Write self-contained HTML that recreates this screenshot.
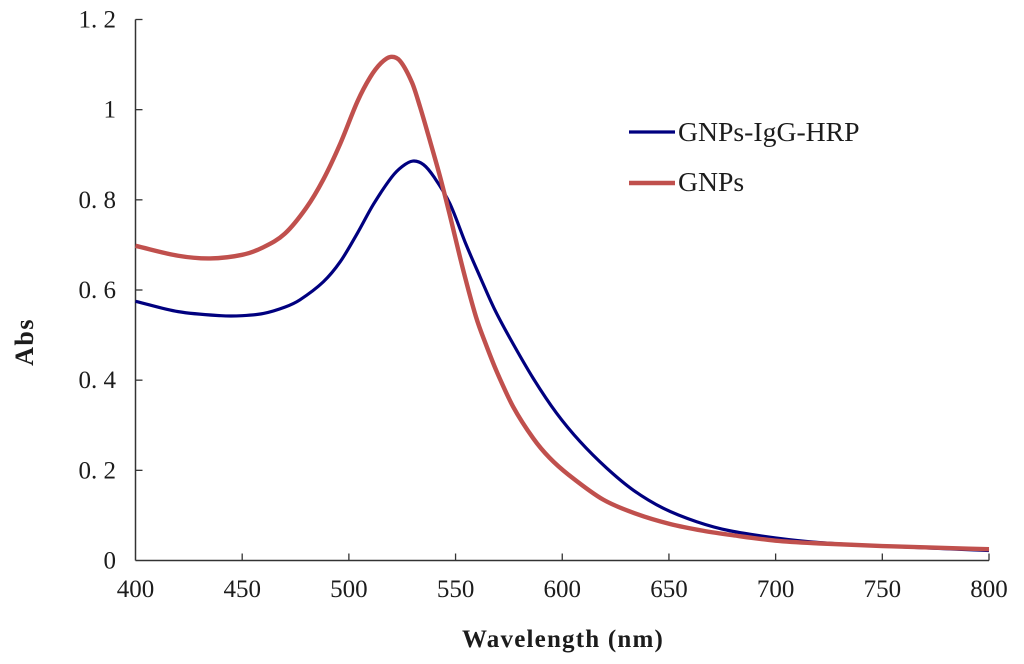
<!DOCTYPE html>
<html>
<head>
<meta charset="utf-8">
<title>Abs vs Wavelength</title>
<style>
html,body{margin:0;padding:0;background:#fff;width:1024px;height:664px;overflow:hidden}
svg{display:block;filter:blur(0.35px)}
text{font-family:"Liberation Serif",serif;fill:#1c1c1c}
.tick{font-size:25px}
.xtitle{font-size:25px;font-weight:bold;letter-spacing:1.2px}
.ytitle{font-size:26px;font-weight:bold;letter-spacing:1.5px}
.leg{font-size:27.7px}
</style>
</head>
<body>
<svg id="chart" width="1024" height="664" viewBox="0 0 1024 664" xmlns="http://www.w3.org/2000/svg"></svg>
<script>
const xTickValues = [400,450,500,550,600,650,700,750,800];
const yTickValues = [0,0.2,0.4,0.6,0.8,1,1.2];
const yTickLabels = ["0","0. 2","0. 4","0. 6","0. 8","1","1. 2"];
const blueNm  = [400,420,440,450,460,470,477,488,496,504,511.5,520,525,530,535,540,547.3,555,561.4,568,575.5,586.4,597.3,608.3,620.8,633.3,647.3,663,678.5,700,720,750,800];
const blueAbs = [0.575,0.552,0.543,0.543,0.548,0.562,0.578,0.618,0.663,0.726,0.79,0.85,0.874,0.886,0.878,0.85,0.792,0.70,0.63,0.56,0.493,0.404,0.327,0.264,0.205,0.156,0.116,0.086,0.066,0.05,0.04,0.032,0.022];
const redNm   = [400,420,435,450,460,470,480,488,496,504,510,515,519.5,524,529.6,533.3,537.2,542.7,547,553.6,559.6,564,569.3,577,586.4,594,603,619.2,635,650.5,666,680,700,720,750,800];
const redAbs  = [0.698,0.676,0.670,0.678,0.695,0.725,0.782,0.845,0.925,1.018,1.072,1.103,1.117,1.108,1.06,1.007,0.944,0.852,0.772,0.644,0.54,0.482,0.419,0.341,0.271,0.228,0.19,0.135,0.103,0.081,0.066,0.056,0.044,0.038,0.032,0.025];
const seriesNames = ["GNPs-IgG-HRP","GNPs"];

const NS = "http://www.w3.org/2000/svg";
const svg = document.getElementById("chart");
const X0 = 135.5, X1 = 989, Y0 = 560.5, Y1 = 19.5;
function xScale(v){ return X0 + (v - 400) / 400 * (X1 - X0); }
function yScale(v){ return Y0 - v / 1.2 * (Y0 - Y1); }
function mk(tag, attrs, parent){
  const e = document.createElementNS(NS, tag);
  for (const k in attrs) e.setAttribute(k, attrs[k]);
  (parent || svg).appendChild(e);
  return e;
}
function curve(xs, ys){
  const p = xs.map((x,i)=>[xScale(x), yScale(ys[i])]);
  let d = "M" + p[0][0].toFixed(2) + " " + p[0][1].toFixed(2);
  for (let i = 0; i < p.length - 1; i++){
    const a = p[Math.max(i-1,0)], b = p[i], c = p[i+1], e = p[Math.min(i+2,p.length-1)];
    const h = c[0] - b[0];
    const m1 = (c[1]-a[1])/((c[0]-a[0])||1), m2 = (e[1]-b[1])/((e[0]-b[0])||1);
    d += "C" + (b[0]+h/3).toFixed(2) + " " + (b[1]+m1*h/3).toFixed(2) + " " +
         (c[0]-h/3).toFixed(2) + " " + (c[1]-m2*h/3).toFixed(2) + " " +
         c[0].toFixed(2) + " " + c[1].toFixed(2);
  }
  return d;
}

const axisColor = "#333";
const yAxis = mk("line",{x1:X0,y1:Y1,x2:X0,y2:Y0,stroke:axisColor,"stroke-width":1.5});


const xAxis = mk("line",{x1:X0,y1:Y0,x2:X1,y2:Y0,stroke:axisColor,"stroke-width":1.5});



xTickValues.forEach(function(v){
  if (v !== 400) {
    const t = mk("line",{x1:xScale(v),y1:Y0,x2:xScale(v),y2:Y0-7,stroke:axisColor,"stroke-width":1.3});
    
    
  }
  const l = mk("text",{x:xScale(v),y:597,"text-anchor":"middle","class":"tick"});
  
  
  l.textContent = String(v);
});
yTickValues.forEach(function(v,i){
  if (v !== 0) {
    const t = mk("line",{x1:X0,y1:yScale(v),x2:X0+7,y2:yScale(v),stroke:axisColor,"stroke-width":1.3});
    
    
  }
  const l = mk("text",{x:116,y:yScale(v)+8,"text-anchor":"end","class":"tick"});
  
  
  l.style.whiteSpace = 'pre';
  l.textContent = yTickLabels[i];
});

const blue = mk("path",{d:curve(blueNm,blueAbs),fill:"none",stroke:"#00007f","stroke-width":3.2,"stroke-linejoin":"round"});


const red = mk("path",{d:curve(redNm,redAbs),fill:"none",stroke:"#c0504d","stroke-width":4.4,"stroke-linejoin":"round"});



const lb = mk("line",{x1:629,y1:132,x2:675,y2:132,stroke:"#00007f","stroke-width":3.2});


const lbt = mk("text",{x:678,y:141,"class":"leg"});


lbt.textContent = seriesNames[0];
const lr = mk("line",{x1:629,y1:183,x2:675,y2:183,stroke:"#c0504d","stroke-width":4.4});


const lrt = mk("text",{x:678,y:191,"class":"leg"});


lrt.textContent = seriesNames[1];

const xt = mk("text",{x:563,y:647,"text-anchor":"middle","class":"xtitle"});


xt.textContent = "Wavelength (nm)";
const yt = mk("text",{x:0,y:0,"text-anchor":"middle","class":"ytitle",transform:"translate(33 342) rotate(-90)"});


yt.textContent = "Abs";
</script>
</body>
</html>
